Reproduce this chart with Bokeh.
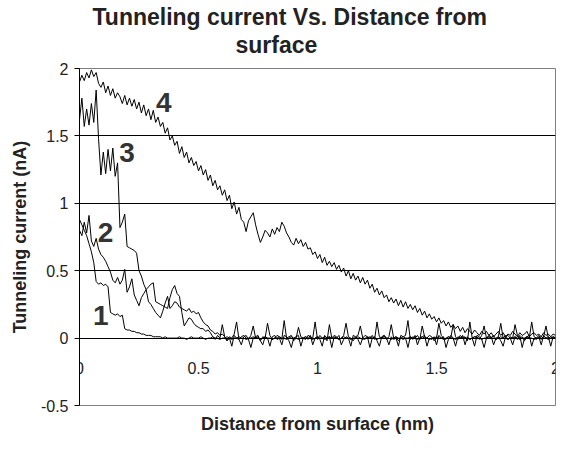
import numpy as np
from bokeh.plotting import figure
from bokeh.models import Range1d, FixedTicker, Title, LinearAxis
from bokeh.core.properties import value
from bokeh.embed import file_html
from bokeh.resources import INLINE

# ---------------- data ----------------
step = 0.01  # nm between samples

curve1_head = [0.88, 0.84, 0.80, 0.76, 0.70, 0.64, 0.56, 0.42, 0.40, 0.41,
               0.39, 0.40, 0.38, 0.19, 0.18, 0.17, 0.18, 0.16, 0.17, 0.07,
               0.06, 0.06, 0.05, 0.05, 0.04, 0.04, 0.03, 0.03, 0.02, 0.02,
               0.02, 0.01, 0.01, 0.01, 0.01, 0.00, 0.01, 0.00, 0.00, 0.00,
               0.00]
curve1_tail = [0.00, 0.01, 0.00, 0.00, -0.01, 0.00, 0.01, 0.00, 0.00, 0.00,
               0.01, 0.00, -0.01, 0.00, 0.00, 0.01, 0.00, 0.00, -0.01, 0.00,
               0.00, 0.01, 0.00, -0.01, 0.00, 0.00, 0.01, 0.00, 0.00, -0.01,
               0.00, 0.00, 0.01, 0.00, 0.00, -0.01, 0.00, 0.01, 0.00, 0.00,
               -0.01, 0.00, 0.00, 0.01, 0.00, 0.00, -0.01, 0.00, 0.01, 0.00,
               0.00, -0.01, 0.00, 0.00, 0.01, 0.00, 0.00, -0.01, 0.00, 0.01,
               0.00, 0.00, -0.01, 0.00, 0.01, 0.00, 0.00, 0.00, -0.01, 0.00,
               0.01, 0.00, 0.00, -0.01, 0.00, 0.00, 0.01, 0.00, -0.01, 0.00,
               0.00, 0.01, 0.00, 0.00, -0.01, 0.00, 0.00, 0.01, 0.00, 0.00,
               -0.01, 0.00, 0.01, 0.00, 0.00, -0.01, 0.00, 0.00, 0.01, 0.00,
               0.00, -0.01, 0.00, 0.01, 0.00, 0.00, -0.01, 0.00, 0.00, 0.01,
               0.00, 0.00, -0.01, 0.00, 0.01, 0.00, 0.00, -0.01, 0.00, 0.00,
               0.01, 0.00, 0.00, -0.01, 0.00, 0.01, 0.00, 0.00, -0.01, 0.00,
               0.00, 0.01, 0.00, 0.00, -0.01, 0.00, 0.01, 0.00, 0.00, -0.01,
               0.00, 0.00, 0.01, 0.00, -0.01, 0.00, 0.00, 0.01, 0.00, 0.00,
               -0.01, 0.00, 0.00, 0.01, 0.00, 0.00, -0.01, 0.00, 0.01, 0.00]

curve2_head = [0.80, 0.76, 0.86, 0.78, 0.91, 0.72, 0.68, 0.74, 0.66, 0.62,
               0.60, 0.57, 0.53, 0.49, 0.43, 0.41, 0.45, 0.40, 0.43, 0.51,
               0.34, 0.38, 0.44, 0.32, 0.28, 0.24, 0.30, 0.33, 0.36, 0.27,
               0.25, 0.22, 0.19, 0.17, 0.15, 0.20, 0.26, 0.31, 0.22, 0.24,
               0.27, 0.26, 0.23, 0.22, 0.21, 0.20, 0.22, 0.19, 0.20, 0.18,
               0.19, 0.15, 0.12, 0.10, 0.09, 0.06, 0.05, 0.03, 0.04, 0.02,
               0.03]
curve2_tail = [0.01, -0.02, 0.00, -0.06, 0.02, 0.00, -0.01, -0.05, 0.01,
               0.02, -0.01, -0.07, 0.00, 0.01, 0.02, -0.02, -0.05, 0.01,
               0.00, -0.06, 0.01, 0.02, -0.01, 0.00, -0.05, 0.02, 0.01,
               -0.02, -0.07, 0.00, 0.01, 0.02, -0.06, 0.00, 0.01, -0.01,
               0.02, -0.05, 0.00, 0.01, -0.01, -0.06, 0.02, 0.00, 0.01,
               -0.07, 0.01, 0.00, 0.02, -0.05, -0.01, 0.01, 0.00, -0.06,
               0.02, 0.01, -0.01, -0.05, 0.00, 0.02, 0.01, -0.07, 0.00,
               0.01, -0.02, -0.06, 0.01, 0.02, 0.00, -0.05, 0.01, -0.01,
               0.00, -0.06, 0.02, 0.01, 0.00, -0.07, 0.01, -0.01, 0.02,
               -0.05, 0.00, 0.01, 0.02, -0.06, 0.00, -0.01, 0.01, -0.05,
               0.02, 0.00, 0.01, -0.07, -0.01, 0.02, 0.00, -0.06, 0.01,
               0.00, 0.02, -0.05, 0.01, -0.01, 0.00, -0.06, 0.02, 0.01,
               -0.01, -0.07, 0.00, 0.02, 0.01, -0.05, 0.00, 0.01, -0.02,
               -0.06, 0.01, 0.02, 0.00, -0.05, 0.01, -0.01, 0.02, -0.07,
               0.00, 0.01, 0.02, -0.06, 0.00, -0.01, 0.01, -0.05, 0.02,
               0.00, 0.01, -0.06, 0.01, 0.00]

curve3_head = [1.62, 1.78, 1.57, 1.70, 1.58, 1.74, 1.60, 1.84, 1.48, 1.21,
               1.38, 1.22, 1.40, 1.24, 1.41, 1.20, 1.30, 0.82, 0.86, 0.92,
               0.68, 0.67, 0.66, 0.65, 0.63, 0.50, 0.46, 0.40, 0.36, 0.38,
               0.40, 0.41, 0.27, 0.26, 0.25, 0.24, 0.23, 0.22, 0.30, 0.36,
               0.39, 0.33, 0.31, 0.19, 0.09, 0.12, 0.15, 0.14, 0.11, 0.09,
               0.08, 0.07, 0.07, 0.05, 0.06, 0.04]
curve3_tail = [0.01, -0.01, 0.02, 0.00, 0.10, 0.01, -0.02,
               0.01, 0.00, 0.03, 0.12, -0.01, 0.01,
               0.02, 0.00, -0.01, 0.02, 0.09, 0.00, 0.01,
               -0.02, 0.01, 0.00, 0.11, 0.02, -0.01,
               0.00, 0.02, 0.01, -0.01, 0.13, 0.00, 0.01,
               0.02, -0.02, 0.00, 0.08, 0.01, 0.00,
               -0.01, 0.02, 0.01, 0.00, 0.12, -0.01, 0.02,
               0.00, 0.01, -0.02, 0.10, 0.00, 0.02,
               0.01, -0.01, 0.00, 0.02, 0.11, 0.01, 0.00,
               -0.02, 0.01, 0.02, 0.09, 0.00, -0.01,
               0.01, 0.00, 0.02, -0.01, 0.12, 0.01, 0.00,
               0.02, -0.01, 0.01, 0.10, 0.00, 0.01,
               -0.02, 0.00, 0.01, 0.02, 0.13, -0.01, 0.01,
               0.00, 0.02, -0.01, 0.09, 0.01, 0.00,
               0.02, 0.01, -0.02, 0.00, 0.11, 0.02, 0.00,
               -0.01, 0.01, 0.00, 0.10, 0.01, -0.01,
               0.02, 0.00, 0.01, -0.02, 0.12, 0.00, 0.01,
               0.01, -0.01, 0.02, 0.09, 0.00, 0.01,
               0.00, 0.02, -0.01, 0.01, 0.11, 0.00, 0.02,
               -0.01, 0.01, 0.00, 0.10, 0.02, 0.00,
               0.01, -0.02, 0.01, 0.00, 0.12, 0.01, 0.00,
               0.02, -0.01, 0.01, 0.09, 0.00, 0.01,
               0.00, 0.01]

curve4_head = [1.90, 1.95, 1.91, 1.97, 1.93, 1.99, 1.94, 1.97, 1.89, 1.86,
               1.90, 1.82, 1.87, 1.80, 1.85, 1.78, 1.82, 1.79, 1.74, 1.80,
               1.73, 1.78, 1.72, 1.77, 1.70, 1.75, 1.67, 1.73, 1.65, 1.70,
               1.62, 1.69, 1.60, 1.64, 1.57, 1.60, 1.52, 1.56, 1.47, 1.50,
               1.43, 1.46, 1.37, 1.42, 1.34, 1.38, 1.30, 1.34, 1.28, 1.31,
               1.24, 1.28, 1.21, 1.25, 1.17, 1.21, 1.13, 1.17, 1.10, 1.13,
               1.06, 1.10, 1.02, 1.06, 0.96, 1.01, 0.92, 0.97, 0.88, 0.86,
               0.79, 0.87, 0.90, 0.93, 0.84, 0.77, 0.71, 0.75, 0.80, 0.78,
               0.75, 0.81, 0.77, 0.82, 0.79, 0.86, 0.83, 0.78, 0.75, 0.71,
               0.69, 0.74, 0.70, 0.73, 0.68, 0.71, 0.66, 0.67, 0.62, 0.64,
               0.59, 0.62, 0.56, 0.60, 0.54, 0.57, 0.53, 0.56, 0.51, 0.54,
               0.49, 0.52, 0.46, 0.50, 0.44, 0.48, 0.43, 0.46, 0.41, 0.45,
               0.40, 0.43, 0.37, 0.40, 0.34, 0.37, 0.32, 0.35, 0.30, 0.32,
               0.27, 0.30, 0.26, 0.29, 0.24, 0.28, 0.23, 0.27, 0.22, 0.25,
               0.21, 0.24, 0.19, 0.22, 0.17, 0.20, 0.15, 0.18, 0.14, 0.16,
               0.12, 0.15, 0.11, 0.13, 0.09, 0.12, 0.08, 0.10, 0.07, 0.09,
               0.05, 0.08, 0.04, 0.07, 0.05, 0.03, 0.06, 0.04, 0.02, 0.05,
               0.03]
curve4_tail = [0.05, 0.02, 0.04, 0.01, 0.03, 0.05, 0.02, 0.04, 0.01, 0.03,
               0.02, 0.05, 0.03, 0.01, 0.04, 0.02, 0.03, 0.05, 0.01, 0.03,
               0.04, 0.02, 0.03, 0.01, 0.04, 0.02, 0.03, 0.01, 0.03, 0.02]

curves = [curve1_head + curve1_tail,
          curve2_head + curve2_tail,
          curve3_head + curve3_tail,
          curve4_head + curve4_tail]

curve_names = ["1", "2", "3", "4"]
name_x = [0.089, 0.109, 0.200, 0.354]
name_y = [0.168, 0.787, 1.380, 1.750]

x_ticks = [0, 0.5, 1, 1.5, 2]
x_tick_labels = ["0", "0.5", "1", "1.5", "2"]
y_ticks = [-0.5, 0, 0.5, 1, 1.5, 2]
y_tick_labels = ["-0.5", "0", "0.5", "1", "1.5", "2"]

title_lines = ["Tunneling current Vs. Distance from", "surface"]

FONT = "Liberation Sans"
TXT = "#222222"

# ---------------- figure ----------------
p = figure(width=560, height=436, output_backend="svg", toolbar_location=None,
           x_range=Range1d(0, 2), y_range=Range1d(-0.5, 2),
           min_border_left=79, min_border_right=5, min_border_top=68,
           min_border_bottom=31)
p.background_fill_color = "white"
p.border_fill_color = "white"
p.outline_line_color = "#808080"
p.outline_line_width = 1

# two-line chart title (a thin spacer panel keeps it off the plot area)
spacer = Title(text=" ", text_font_size="1px", standoff=8)
t2 = Title(text=title_lines[1], align="left", offset=156, text_font=FONT,
           text_font_size="23px", text_font_style="bold", text_color=TXT,
           standoff=0)
t1 = Title(text=title_lines[0], align="left", offset=13, text_font=FONT,
           text_font_size="23px", text_font_style="bold", text_color=TXT,
           standoff=0)
p.add_layout(spacer, "above")
p.add_layout(t2, "above")
p.add_layout(t1, "above")

# y axis
p.yaxis.ticker = FixedTicker(ticks=y_ticks)
p.yaxis.major_label_overrides = {t: l for t, l in zip(y_ticks, y_tick_labels)}
p.yaxis.major_tick_out = 5
p.yaxis.major_tick_in = 0
p.yaxis.minor_tick_out = 0
p.yaxis.minor_tick_in = 0
p.yaxis.major_label_standoff = 6
p.yaxis.major_label_text_font = FONT
p.yaxis.major_label_text_font_size = "16px"
p.yaxis.major_label_text_color = TXT
p.yaxis.axis_line_color = "black"
p.yaxis.major_tick_line_color = "black"
p.yaxis.axis_label = "Tunneling current (nA)"
p.yaxis.axis_label_text_font = FONT
p.yaxis.axis_label_text_font_size = "18px"
p.yaxis.axis_label_text_font_style = "bold"
p.yaxis.axis_label_text_color = TXT
p.yaxis.axis_label_standoff = 8

# bottom axis: only its title
p.xaxis.ticker = FixedTicker(ticks=[])
p.xaxis.axis_line_color = None
p.xaxis.major_tick_line_color = None
p.xaxis.minor_tick_line_color = None
p.xaxis.axis_label = "Distance from surface (nm)"
p.xaxis.axis_label_text_font = FONT
p.xaxis.axis_label_text_font_size = "18px"
p.xaxis.axis_label_text_font_style = "bold"
p.xaxis.axis_label_text_color = TXT
p.xaxis.axis_label_standoff = 8

# x tick labels sit on the y = 0 line
zero_axis = LinearAxis(fixed_location=0, ticker=FixedTicker(ticks=x_ticks),
                       major_label_overrides={t: l for t, l in zip(x_ticks, x_tick_labels)},
                       axis_line_color=None, major_tick_line_color=None,
                       minor_tick_line_color=None, major_tick_out=0,
                       major_tick_in=0, major_label_standoff=24,
                       major_label_text_font=FONT,
                       major_label_text_font_size="16px",
                       major_label_text_color=TXT)
p.add_layout(zero_axis, "below")

# grid
p.xgrid.visible = False
p.ygrid.ticker = FixedTicker(ticks=y_ticks)
p.ygrid.grid_line_color = "black"
p.ygrid.grid_line_width = 1

# curves
for yv in curves:
    xv = np.round(np.arange(len(yv)) * step, 2)
    p.line(xv, yv, line_color="black", line_width=1)

# curve numbers
p.text(x=name_x, y=name_y, text=curve_names, text_font=value(FONT),
       text_font_style="bold", text_font_size="28px", text_align="center",
       text_baseline="middle", text_color="#333333")

open("out.html", "w").write(file_html(p, INLINE))
